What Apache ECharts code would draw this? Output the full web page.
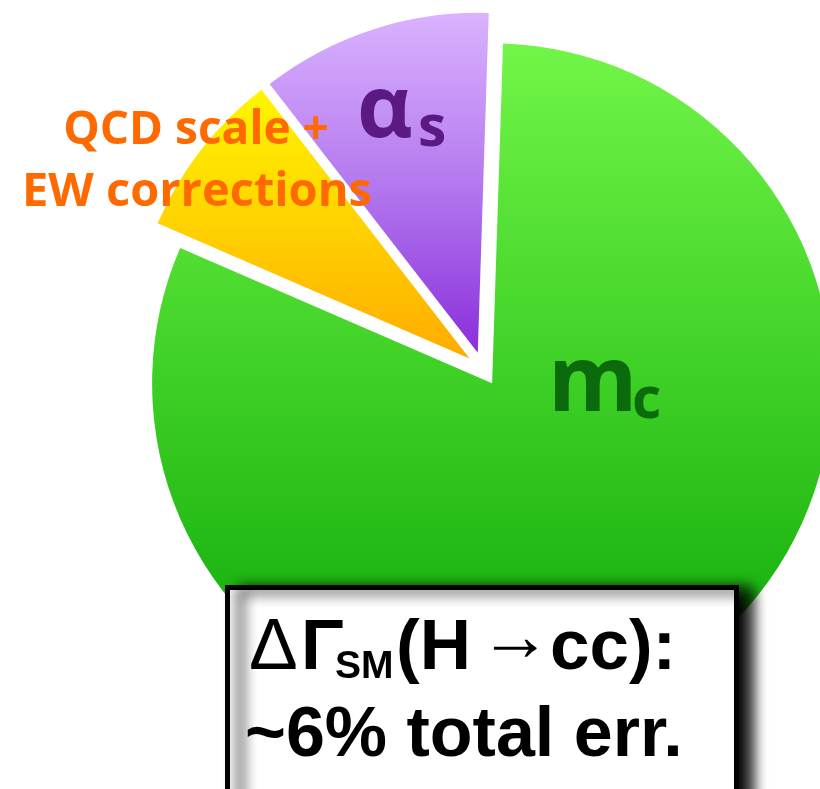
<!DOCTYPE html>
<html>
<head>
<meta charset="utf-8">
<script src="https://cdn.jsdelivr.net/npm/echarts@6/dist/echarts.min.js"></script>
<style>
  html, body { margin: 0; padding: 0; background: #ffffff; }
  #chart { width: 820px; height: 789px; }
</style>
</head>
<body>
<div id="chart"></div>
<script>
// Error budget of the SM H->cc width, share of each source (percent)
const categories = ['m_c', 'QCD scale + EW corrections', 'α_s'];
const shares = [81, 8, 11];

// Vertical gradient per slice: top, middle, bottom
const sliceColors = [
  ['#72f548', '#3dcf25', '#0aa506'],
  ['#fff500', '#ffd200', '#ffab00'],
  ['#dab2ff', '#b479ee', '#8a2edb']
];

function vGrad(c) {
  return new echarts.graphic.LinearGradient(0, 0, 0, 1, [
    { offset: 0, color: c[0] },
    { offset: 0.5, color: c[1] },
    { offset: 1, color: c[2] }
  ]);
}

const LABEL_FAMILY = '"Open Sans", "Noto Sans", sans-serif';
const BOX_FAMILY = '"Liberation Sans", Arial, sans-serif';

// text placed by its alphabetic baseline (converted to a middle anchor)
function textAt(str, x, baseline, size, weight, color, family, k, align) {
  return {
    type: 'text',
    x: x,
    y: baseline - k * size,
    z: 20,
    style: {
      text: str,
      font: weight + ' ' + size + 'px ' + family,
      fill: color,
      align: align || 'left',
      verticalAlign: 'middle'
    }
  };
}
const kL = 0.36;   // Open Sans
const kB = 0.33;   // Liberation Sans

const chart = echarts.init(document.getElementById('chart'), null, { renderer: 'canvas' });

chart.setOption({
  animation: false,
  backgroundColor: '#ffffff',
  series: [{
    type: 'pie',
    center: [483, 369],
    radius: [0, 340],
    startAngle: 88.15,
    clockwise: true,
    selectedMode: 'multiple',
    selectedOffset: 17,
    avoidLabelOverlap: false,
    label: { show: false },
    labelLine: { show: false },
    emphasis: { disabled: true, scale: false },
    select: { itemStyle: { borderWidth: 0 } },
    itemStyle: { borderWidth: 0 },
    data: categories.map(function (name, i) {
      return {
        name: name,
        value: shares[i],
        selected: true,
        itemStyle: { color: vGrad(sliceColors[i]), borderWidth: 0 },
        select: { itemStyle: { color: vGrad(sliceColors[i]), borderWidth: 0 } }
      };
    })
  }],
  graphic: [
    // slice labels
    textAt('QCD scale +', 196, 147, 46, 'bold', '#ff6a00', LABEL_FAMILY, kL, 'center'),
    textAt('EW corrections', 197, 210, 47, 'bold', '#ff6a00', LABEL_FAMILY, kL, 'center'),
    textAt('α', 357, 143, 86, 'bold', '#5b1a82', LABEL_FAMILY, kL),
    textAt('s', 418, 150, 57, 'bold', '#5b1a82', LABEL_FAMILY, kL),
    textAt('m', 548, 418, 91, 'bold', '#0b6a0b', LABEL_FAMILY, kL),
    textAt('c', 632, 422, 57, 'bold', '#0b6a0b', LABEL_FAMILY, kL),
    // summary box
    {
      type: 'rect',
      z: 10,
      shape: { x: 227.5, y: 587.5, width: 509, height: 400 },
      style: {
        fill: '#ffffff',
        stroke: '#000000',
        lineWidth: 5,
        shadowColor: 'rgba(0,0,0,1)',
        shadowBlur: 14,
        shadowOffsetX: 13,
        shadowOffsetY: 3
      }
    },
    textAt('Δ', 249, 673, 73, 'normal', '#000000', BOX_FAMILY, kB),
    textAt('Γ', 301, 673, 71, 'bold', '#000000', BOX_FAMILY, kB),
    textAt('SM', 335, 680, 39, 'bold', '#000000', BOX_FAMILY, kB),
    textAt('(H', 396, 673, 71, 'bold', '#000000', BOX_FAMILY, kB),
    textAt('→', 479, 664, 72, 'normal', '#000000', BOX_FAMILY, kB),
    textAt('cc):', 550, 673, 71, 'bold', '#000000', BOX_FAMILY, kB),
    textAt('~6% total err.', 245, 760, 70, 'bold', '#000000', BOX_FAMILY, kB)
  ]
});
</script>
</body>
</html>
